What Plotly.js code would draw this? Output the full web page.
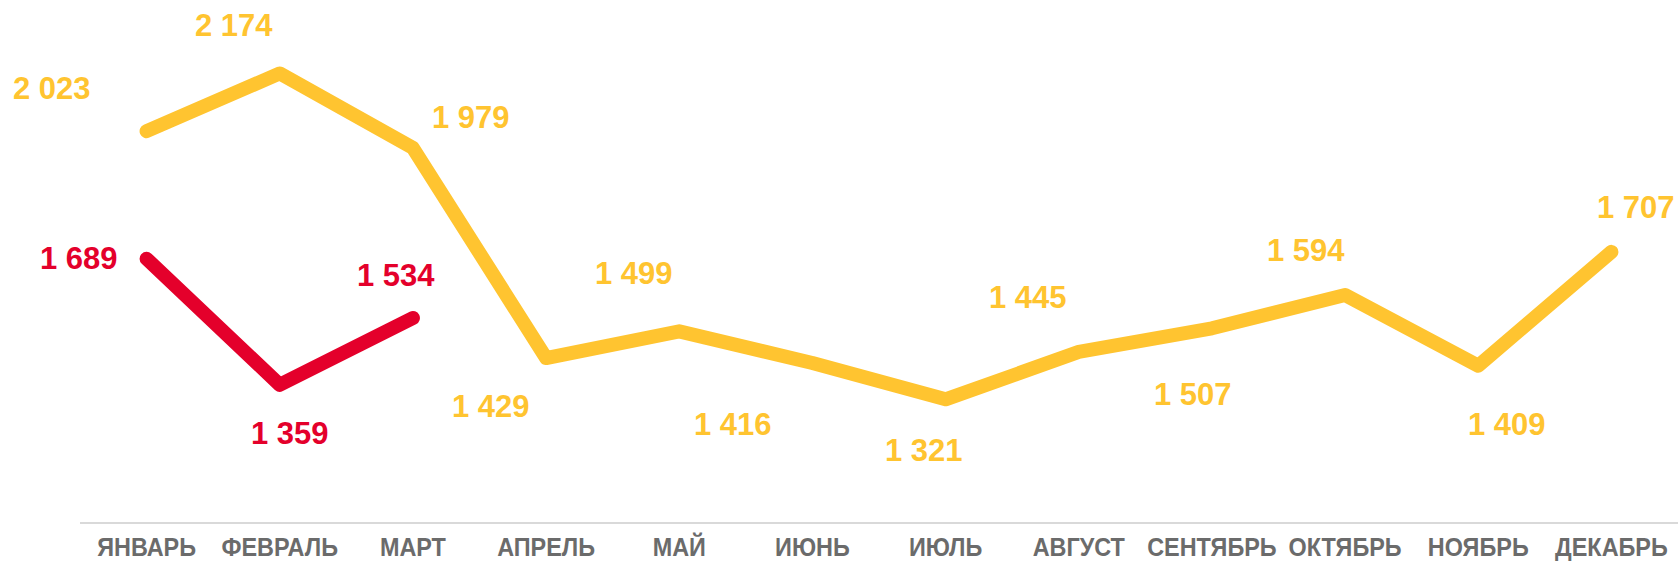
<!DOCTYPE html>
<html>
<head>
<meta charset="utf-8">
<script src="https://cdn.plot.ly/plotly-3.0.1.min.js"></script>
<style>
html, body { margin: 0; padding: 0; background: #ffffff; }
#chart { width: 1678px; height: 563px; }
path.js-line { stroke-linecap: round !important; stroke-linejoin: round !important; }
</style>
</head>
<body>
<div id="chart"></div>
<script>
// Data
const months = ["ЯНВАРЬ", "ФЕВРАЛЬ", "МАРТ", "АПРЕЛЬ", "МАЙ", "ИЮНЬ", "ИЮЛЬ", "АВГУСТ", "СЕНТЯБРЬ", "ОКТЯБРЬ", "НОЯБРЬ", "ДЕКАБРЬ"];
const series2023 = [2023, 2174, 1979, 1429, 1499, 1416, 1321, 1445, 1507, 1594, 1409, 1707];
const series2024Months = ["ЯНВАРЬ", "ФЕВРАЛЬ", "МАРТ"];
const series2024 = [1689, 1359, 1534];

// Label offsets (px) – styling only
const offYellow = [[-95, 43], [-46, 48], [58, 30], [-55, -48], [-45, 58], [-79, -61], [-22, -51], [-51, 54], [-19, -66], [-39, 45], [29, -59], [25, 44]];
const offRed = [[-68, 0], [10, -49], [-17, 42]];

const YELLOW = "#FFC430";
const RED = "#E4002B";

function fmt(v) {
  const s = String(v);
  return s.length > 3 ? s.slice(0, s.length - 3) + " " + s.slice(-3) : s;
}

const labelFont = { family: "Liberation Sans, Arial, sans-serif", size: 31, weight: "bold" };

const annotations = [];
series2023.forEach((v, i) => {
  annotations.push({
    x: months[i], y: v, xref: "x", yref: "y", text: "<b>" + fmt(v) + "</b>",
    showarrow: false, xshift: offYellow[i][0], yshift: offYellow[i][1],
    font: Object.assign({ color: YELLOW }, labelFont)
  });
});
series2024.forEach((v, i) => {
  annotations.push({
    x: series2024Months[i], y: v, xref: "x", yref: "y", text: "<b>" + fmt(v) + "</b>",
    showarrow: false, xshift: offRed[i][0], yshift: offRed[i][1],
    font: Object.assign({ color: RED }, labelFont)
  });
});

const traces = [
  { x: months, y: series2023, type: "scatter", mode: "lines", line: { color: YELLOW, width: 14 }, hoverinfo: "skip" },
  { x: series2024Months, y: series2024, type: "scatter", mode: "lines", line: { color: RED, width: 14 }, hoverinfo: "skip" }
];

const layout = {
  width: 1678, height: 563,
  margin: { l: 80, r: 0, t: 10, b: 41, pad: 0 },
  paper_bgcolor: "#ffffff", plot_bgcolor: "#ffffff",
  showlegend: false,
  xaxis: {
    type: "category", range: [-0.5, 11.5], showgrid: false, zeroline: false,
    showline: true, linecolor: "#d9d9d9", linewidth: 2, ticks: "", tickangle: 0,
    tickfont: { family: "Liberation Sans, Arial, sans-serif", size: 26, color: "#6b6b6b", weight: "bold" },
    ticklabelstandoff: 1
  },
  yaxis: { range: [1000, 2340], visible: false, showgrid: false, zeroline: false },
  annotations: annotations
};

Plotly.newPlot("chart", traces, layout, { displayModeBar: false, staticPlot: true }).then(function () {
  // condense the month labels (narrow typeface look)
  document.querySelectorAll("#chart .xtick text").forEach(function (t) {
    const w = t.getComputedTextLength();
    t.setAttribute("textLength", (w * 0.9).toFixed(1));
    t.setAttribute("lengthAdjust", "spacingAndGlyphs");
  });
});
</script>
</body>
</html>
